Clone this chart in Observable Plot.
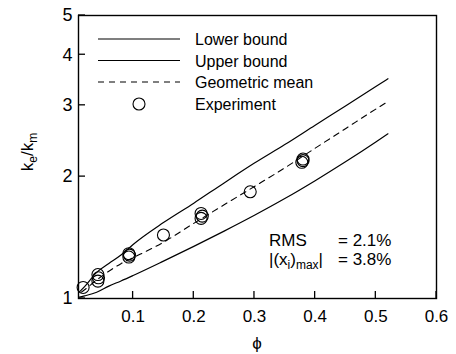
<!DOCTYPE html>
<html><head><meta charset="utf-8">
<script src="https://cdn.jsdelivr.net/npm/d3@7"></script>
<script src="https://cdn.jsdelivr.net/npm/@observablehq/plot@0.6"></script>
<style>
body{margin:0;background:#fff}
svg{font-family:"Liberation Sans",Arial,Helvetica,sans-serif}
</style>
</head><body><div id="chart"></div>
<script>
// Volume fraction grid for the bound curves
const phi = [0, 0.02, 0.04, 0.06, 0.08, 0.1, 0.15, 0.2, 0.25, 0.3, 0.35, 0.4, 0.45, 0.5, 0.52];
const lowerBound = [1, 1.015, 1.036, 1.073, 1.105, 1.14, 1.237, 1.345, 1.467, 1.605, 1.765, 1.954, 2.175, 2.435, 2.552];
const upperBound = [1, 1.07, 1.16, 1.22, 1.28, 1.36, 1.54, 1.72, 1.93, 2.16, 2.40, 2.68, 2.99, 3.34, 3.49];
const geometricMean = [1, 1.051, 1.111, 1.168, 1.219, 1.261, 1.377, 1.533, 1.704, 1.891, 2.102, 2.351, 2.627, 2.936, 3.065];
// Experimental points
const expPhi = [0.0176, 0.042, 0.043, 0.042, 0.093, 0.093, 0.094, 0.150, 0.212, 0.214, 0.212, 0.293, 0.380, 0.378, 0.380];
const expK   = [1.065, 1.146, 1.125, 1.104, 1.290, 1.266, 1.280, 1.435, 1.622, 1.598, 1.577, 1.835, 2.210, 2.170, 2.190];
// Ticks
const xTicks = [0.1, 0.2, 0.3, 0.4, 0.5, 0.6];
const yTicks = [1, 2, 3, 4, 5];
const legendLabels = ["Lower bound", "Upper bound", "Geometric mean", "Experiment"];
const rmsText = "= 2.1%";
const maxText = "= 3.8%";

const curve = arr => phi.map((x, i) => ({x, y: arr[i]}));
const pts = expPhi.map((x, i) => ({x, y: expK[i]}));

const plot = Plot.plot({
  width: 456, height: 354,
  marginLeft: 78, marginRight: 20, marginTop: 15, marginBottom: 56,
  x: {domain: [0.01, 0.6]},
  y: {type: "log", domain: [1, 5]},
  style: {fontFamily: "Liberation Sans, Arial, sans-serif", color: "black", background: "white"},
  marks: [
    Plot.axisX({ticks: xTicks, tickSize: 0, tickPadding: 11, fontSize: 17, label: null, tickFormat: d => String(d)}),
    Plot.axisY({ticks: yTicks, tickSize: 0, tickPadding: 6, fontSize: 18, label: null, tickFormat: d => String(d)}),
    Plot.line(curve(lowerBound), {x: "x", y: "y", stroke: "black", strokeWidth: 1.2, curve: "monotone-x", clip: true}),
    Plot.line(curve(upperBound), {x: "x", y: "y", stroke: "black", strokeWidth: 1.2, curve: "monotone-x", clip: true}),
    Plot.line(curve(geometricMean), {x: "x", y: "y", stroke: "black", strokeWidth: 1.1, strokeDasharray: "6,5", curve: "monotone-x", clip: true}),
    Plot.dot(pts, {x: "x", y: "y", r: 6, stroke: "black", fill: "none", strokeWidth: 1.1}),
    Plot.frame({stroke: "black", strokeWidth: 1.4})
  ]
});

const svg = d3.select(plot);
const sx = plot.scale("x"), sy = plot.scale("y");
const x0 = sx.range[0], x1 = sx.range[1];
const yb = sy.range[0], yt = sy.range[1];

// inward ticks
const g = svg.append("g").attr("stroke", "black").attr("stroke-width", 1.3);
xTicks.forEach(v => {
  const px = sx.apply(v);
  g.append("line").attr("x1", px).attr("x2", px).attr("y1", yb).attr("y2", yb - 7);
});
yTicks.forEach(v => {
  const py = sy.apply(v);
  g.append("line").attr("x1", x0).attr("x2", x0 + 7).attr("y1", py).attr("y2", py);
});

// legend
const lg = svg.append("g").attr("font-size", 16).attr("fill", "black").attr("text-anchor", "start");
const rows = [45, 66.5, 88, 109.5];
const lineX1 = x0 + 20, lineX2 = x0 + 102, textX = x0 + 117;
[0, 1].forEach(i => {
  lg.append("line").attr("x1", lineX1).attr("x2", lineX2).attr("y1", rows[i] - 6).attr("y2", rows[i] - 6)
    .attr("stroke", "black").attr("stroke-width", 1.2);
});
lg.append("line").attr("x1", lineX1).attr("x2", lineX2).attr("y1", rows[2] - 6).attr("y2", rows[2] - 6)
  .attr("stroke", "black").attr("stroke-width", 1.1).attr("stroke-dasharray", "6,5");
lg.append("circle").attr("cx", (lineX1 + lineX2) / 2).attr("cy", rows[3] - 5.5).attr("r", 6)
  .attr("fill", "none").attr("stroke", "black").attr("stroke-width", 1.1);
legendLabels.forEach((t, i) => {
  lg.append("text").attr("x", textX).attr("y", rows[i]).text(t);
});

// annotation
const an = svg.append("g").attr("font-size", 17).attr("fill", "black").attr("text-anchor", "start");
an.append("text").attr("x", 269).attr("y", 246).text("RMS");
an.append("text").attr("x", 338).attr("y", 246).text(rmsText);
const t2 = an.append("text").attr("x", 269).attr("y", 265);
t2.append("tspan").text("|(x");
t2.append("tspan").attr("font-size", 12).attr("dy", 4).text("i");
t2.append("tspan").attr("dy", -4).text(")");
t2.append("tspan").attr("font-size", 12).attr("dy", 4).text("max");
t2.append("tspan").attr("dy", -4).text("|");
an.append("text").attr("x", 338).attr("y", 265).text(maxText);

// axis titles
const yl = svg.append("text").attr("font-size", 17).attr("fill", "black")
  .attr("text-anchor", "middle").attr("transform", "translate(33,152) rotate(-90)");
yl.append("tspan").text("k");
yl.append("tspan").attr("font-size", 12).attr("dy", 4).text("e");
yl.append("tspan").attr("dy", -4).text("/k");
yl.append("tspan").attr("font-size", 12).attr("dy", 4).text("m");

svg.append("text").attr("font-size", 17).attr("fill", "black").attr("text-anchor", "middle")
  .attr("x", (x0 + x1) / 2).attr("y", 349).text("ϕ");

document.getElementById("chart").appendChild(plot);
</script>
</body></html>
